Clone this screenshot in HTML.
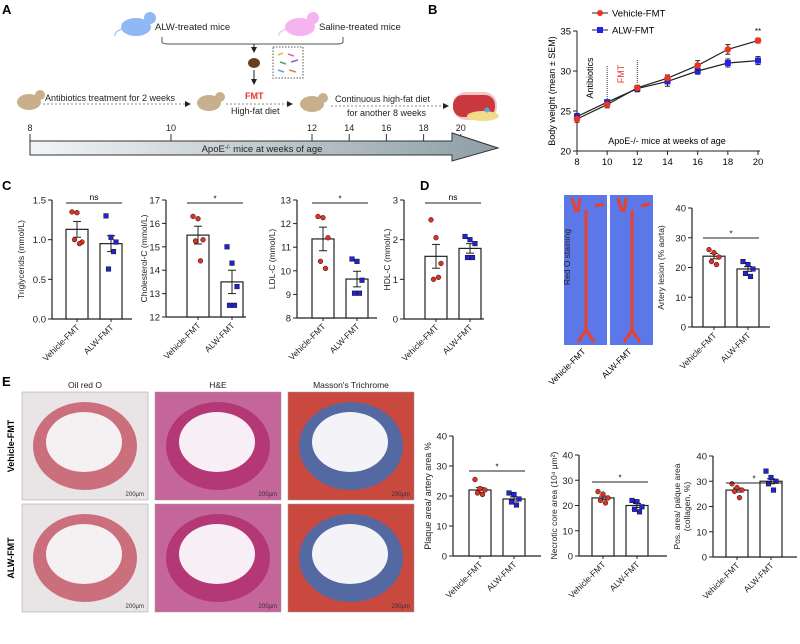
<!DOCTYPE html>
<html><head><meta charset="utf-8"><style>
body{margin:0;background:#fff}
svg{display:block;font-family:"Liberation Sans",Arial,sans-serif}
</style></head><body>
<svg id="fig" width="800" height="644" viewBox="0 0 800 644" xmlns="http://www.w3.org/2000/svg">
<defs>
<linearGradient id="tl" x1="0" x2="1"><stop offset="0" stop-color="#f2f5f7"/><stop offset="1" stop-color="#8e9ea6"/></linearGradient>
<marker id="ah" markerWidth="6" markerHeight="6" refX="5" refY="3" orient="auto"><path d="M0,0L6,3L0,6z" fill="#222"/></marker>
</defs>
<g>
<text x="2" y="14" font-size="13" font-weight="bold">A</text>
<g><ellipse cx="136" cy="27" rx="15" ry="9" fill="#8fb8f4"/><circle cx="150" cy="18" r="6" fill="#8fb8f4"/><path d="M122,29 Q114,32 115,36" stroke="#8fb8f4" fill="none"/></g>
<text x="155" y="30" font-size="9.5" fill="#222">ALW-treated mice</text>
<g><ellipse cx="300" cy="27" rx="15" ry="9" fill="#f5b3ef"/><circle cx="313" cy="18" r="6" fill="#f5b3ef"/><path d="M286,29 Q278,32 279,36" stroke="#f5b3ef" fill="none"/></g>
<text x="319" y="30" font-size="9.5" fill="#222">Saline-treated mice</text>
<path d="M162,37 V42 Q162,44 170,44 H336 Q343,44 343,42 V37" stroke="#555" fill="none"/>
<line x1="254" y1="44" x2="254" y2="52" stroke="#222" marker-end="url(#ah)"/>
<ellipse cx="254" cy="63" rx="6" ry="5" fill="#6b3f1c"/>
<rect x="273" y="47" width="30" height="31" fill="#fff" stroke="#555" stroke-dasharray="1.5,1.5"/>
<g stroke-width="1.5"><line x1="278" y1="55" x2="283" y2="53" stroke="#d6c13a"/><line x1="288" y1="54" x2="294" y2="56" stroke="#e26aa0"/><line x1="280" y1="62" x2="286" y2="64" stroke="#4aa86b"/><line x1="291" y1="62" x2="298" y2="60" stroke="#8a64c9"/><line x1="278" y1="70" x2="284" y2="72" stroke="#52a9d9"/><line x1="289" y1="70" x2="296" y2="72" stroke="#e5814b"/></g>
<line x1="254" y1="70" x2="254" y2="84" stroke="#222" marker-end="url(#ah)"/>
<g><ellipse cx="29" cy="102" rx="12" ry="8" fill="#c9b08c"/><circle cx="40" cy="95" r="5" fill="#c9b08c"/></g>
<text x="45" y="101" font-size="9" fill="#222">Antibiotics treatment for 2 weeks</text>
<line x1="43" y1="104" x2="190" y2="104" stroke="#888" stroke-dasharray="2,2" marker-end="url(#ah)"/>
<g><ellipse cx="209" cy="103" rx="12" ry="8" fill="#c9b08c"/><circle cx="220" cy="97" r="5" fill="#c9b08c"/></g>
<text x="245" y="99" font-size="9" font-weight="bold" fill="#e5352b">FMT</text>
<line x1="226" y1="104" x2="292" y2="104" stroke="#888" stroke-dasharray="2,2" marker-end="url(#ah)"/>
<text x="231" y="114" font-size="9" fill="#222">High-fat diet</text>
<g><ellipse cx="312" cy="104" rx="12" ry="8" fill="#c9b08c"/><circle cx="323" cy="98" r="5" fill="#c9b08c"/></g>
<text x="335" y="102" font-size="9" fill="#222">Continuous high-fat diet</text>
<text x="347" y="116" font-size="9" fill="#222">for another 8 weeks</text>
<line x1="331" y1="106" x2="448" y2="106" stroke="#888" stroke-dasharray="2,2" marker-end="url(#ah)"/>
<g><rect x="453" y="92" width="44" height="28" rx="13" fill="#f0c8c8"/><rect x="453" y="95" width="42" height="22" rx="10" fill="#c9383e"/><ellipse cx="483" cy="116" rx="16" ry="5" fill="#f2dc8a"/><circle cx="487" cy="110" r="2.5" fill="#55a7e0"/></g>
<g id="tlticks" font-size="9" fill="#222" text-anchor="middle"></g>
<path d="M30,141 H452 V133 L498,148 L452,161 V155 H30 Z" fill="url(#tl)" stroke="#333"/>
<text x="262" y="152" font-size="9.5" fill="#222" text-anchor="middle">ApoE<tspan font-size="6" dy="-3">-/-</tspan><tspan dy="3"> mice at weeks of age</tspan></text>
</g>
<g id="pb">
<text x="428" y="14" font-size="13" font-weight="bold">B</text>
</g>
<text x="2" y="190" font-size="13" font-weight="bold">C</text>
<text x="420" y="190" font-size="13" font-weight="bold">D</text>
<g>
<rect x="564" y="195" width="43" height="150" fill="#5b77e8"/>
<rect x="610" y="195" width="43" height="150" fill="#5b77e8"/>
<g fill="none" stroke="#e8422c" stroke-width="3"><path d="M572,198 L576,212 M580,198 L578,212 M595,206 L604,204 M586,210 V330 M586,330 L578,342 M586,330 L594,342"/><path d="M618,198 L622,212 M626,198 L624,212 M641,206 L650,204 M632,210 V330 M632,330 L624,342 M632,330 L640,342"/></g>
<text x="586" y="273" font-size="8.5" fill="#222" text-anchor="middle" transform="rotate(-90 570 273)">Red O staining</text>
<text x="586" y="352" font-size="8.5" text-anchor="end" transform="rotate(-45 586 352)">Vehicle-FMT</text>
<text x="632" y="352" font-size="8.5" text-anchor="end" transform="rotate(-45 632 352)">ALW-FMT</text>
</g>
<text x="2" y="386" font-size="13" font-weight="bold">E</text>
<g id="histo"></g>
<g id="charts"></g>
</svg>
<script>
const NS="http://www.w3.org/2000/svg";
function mk(tag,attrs,parent,txt){const e=document.createElementNS(NS,tag);for(const k in attrs)e.setAttribute(k,attrs[k]);if(txt!==undefined)e.textContent=txt;parent.appendChild(e);return e;}

const tlWeeks=[8,10,12,14,16,18,20];
function tlPos(w){ if(w<=12) return 30+(w-8)*70.5; return 312+(w-12)*18.6; }
const tlg=document.getElementById('tlticks');
tlWeeks.forEach(w=>{const x=tlPos(w);
 const t=mk('text',{x:x,y:131},tlg,String(w));
 
 
 mk('line',{x1:x,y1:134,x2:x,y2:141,stroke:'#333'},tlg);});

const bWeeks=[8,10,12,14,16,18,20];
const bVehicle=[24.0,25.8,27.9,29.1,30.7,32.7,33.8];
const bVehicleSem=[0.4,0.4,0.3,0.4,0.6,0.6,0.3];
const bAlw=[24.3,26.1,27.8,28.7,30.0,31.0,31.3];
const bAlwSem=[0.4,0.3,0.4,0.6,0.4,0.5,0.5];
const bYTicks=[20,25,30,35];
(function(){
 const g=document.getElementById('pb');
 const X=w=>577+(w-8)*(758-577)/12, Y=v=>151-(v-20)*(151-31)/15;
 mk('line',{x1:577,y1:31,x2:577,y2:151,stroke:'#222'},g);
 mk('line',{x1:577,y1:151,x2:760,y2:151,stroke:'#222'},g);
 bYTicks.forEach(v=>{mk('line',{x1:573,y1:Y(v),x2:577,y2:Y(v),stroke:'#222'},g);
  const t=mk('text',{x:571,y:Y(v)+3.5,'font-size':9.5,'text-anchor':'end'},g,String(v));
  });
 bWeeks.forEach(w=>{mk('line',{x1:X(w),y1:151,x2:X(w),y2:155,stroke:'#222'},g);
  const t=mk('text',{x:X(w),y:165,'font-size':9.5,'text-anchor':'middle'},g,String(w));
  });
 const yt=mk('text',{x:0,y:0,'font-size':9,'text-anchor':'middle',transform:'translate(555,91) rotate(-90)'},g,'Body weight (mean ± SEM)');
 
 const xt=mk('text',{x:667,y:144,'font-size':9,'text-anchor':'middle'},g,'ApoE-/- mice at weeks of age');
 
 mk('line',{x1:X(10),y1:66,x2:X(10),y2:100,stroke:'#333','stroke-dasharray':'1,1'},g);
 mk('line',{x1:X(12),y1:60,x2:X(12),y2:83,stroke:'#333','stroke-dasharray':'1,1'},g);
 let t=mk('text',{x:0,y:0,'font-size':9,'text-anchor':'middle',transform:'translate(593,78) rotate(-90)'},g,'Antibiotics');
 
 t=mk('text',{x:0,y:0,'font-size':9,fill:'#e5352b','text-anchor':'middle',transform:'translate(624,74) rotate(-90)'},g,'FMT');
 
 t=mk('text',{x:X(20),y:Y(34.6),'font-size':8,'text-anchor':'middle'},g,'**');
 
 [[bAlw,bAlwSem,'#2222ee','sq','alw'],[bVehicle,bVehicleSem,'#ee3322','ci','vehicle']].forEach(([d,s,c,shape,nm])=>{
  const line=mk('polyline',{points:d.map((v,i)=>X(bWeeks[i])+','+Y(v)).join(' '),fill:'none',stroke:'#222','stroke-width':1.2},g);
  
  d.forEach((v,i)=>{const x=X(bWeeks[i]);
   mk('line',{x1:x,y1:Y(v+s[i]),x2:x,y2:Y(v-s[i]),stroke:'#222'},g);
   mk('line',{x1:x-2.5,y1:Y(v+s[i]),x2:x+2.5,y2:Y(v+s[i]),stroke:'#222'},g);
   mk('line',{x1:x-2.5,y1:Y(v-s[i]),x2:x+2.5,y2:Y(v-s[i]),stroke:'#222'},g);
   let p=shape==='sq'?mk('rect',{x:x-3,y:Y(v)-3,width:6,height:6,fill:c},g):mk('circle',{cx:x,cy:Y(v),r:3.3,fill:c},g);
   });
 });
 mk('line',{x1:592,y1:13,x2:608,y2:13,stroke:'#222'},g);mk('circle',{cx:600,cy:13,r:3,fill:'#ee3322'},g);
 t=mk('text',{x:612,y:16.5,'font-size':9.5},g,'Vehicle-FMT');
 mk('line',{x1:592,y1:30,x2:608,y2:30,stroke:'#222'},g);mk('rect',{x:597,y:27,width:6,height:6,fill:'#2222ee'},g);
 t=mk('text',{x:612,y:33.5,'font-size':9.5},g,'ALW-FMT');
})();

const groups=['Vehicle-FMT','ALW-FMT'];
const triMeans=[1.13,0.95], triSem=[0.1,0.1], triVeh=[1.35,1.34,0.97,1.0,0.95], triAlw=[1.3,1.03,0.97,0.63,0.85], triTicks=['0.0','0.5','1.0','1.5'];
const cholMeans=[15.5,13.5], cholSem=[0.38,0.5], cholVeh=[16.3,16.2,15.3,15.25,14.4], cholAlw=[15.0,14.3,13.3,12.5,12.5], cholTicks=['12','13','14','15','16','17'];
const ldlMeans=[11.35,9.65], ldlSem=[0.5,0.33], ldlVeh=[12.3,12.25,11.4,10.4,10.1], ldlAlw=[10.5,10.4,9.6,9.05,9.05], ldlTicks=['8','9','10','11','12','13'];
const hdlMeans=[1.58,1.78], hdlSem=[0.3,0.12], hdlVeh=[2.5,2.05,1.4,1.0,1.05], hdlAlw=[2.08,2.0,1.9,1.55,1.55], hdlTicks=['0','1','2','3'];
const lesMeans=[23.8,19.5], lesSem=[0.9,0.8], lesVeh=[26,25,23.5,22,21], lesAlw=[22,21,19.5,18,17], lesTicks=['0','10','20','30','40'];
const plqMeans=[22,19], plqSem=[0.8,0.7], plqVeh=[25.5,22.5,22,21,20.5], plqAlw=[21,20.5,19,18,17], plqTicks=['0','10','20','30','40'];
const necMeans=[23,20], necSem=[0.7,0.8], necVeh=[25.5,24.5,23,22,21], necAlw=[22,21.5,19.5,18.5,17.5], necTicks=['0','10','20','30','40'];
const colMeans=[26.5,30], colSem=[0.8,1.0], colVeh=[29,27.5,26.5,26,23.5], colAlw=[34,31.5,30,29,26.5], colTicks=['0','10','20','30','40'];

function bar(o){
 const g=mk('g',{},document.getElementById('charts'));
 
 const lo=parseFloat(o.ticks[0]),hi=parseFloat(o.ticks[o.ticks.length-1]);
 const Y=v=>o.y0-(v-lo)*(o.y0-o.y1)/(hi-lo);
 mk('line',{x1:o.ax,y1:o.y1,x2:o.ax,y2:o.y0,stroke:'#222','stroke-width':1.2},g);
 mk('line',{x1:o.ax,y1:o.y0,x2:o.ax+o.w,y2:o.y0,stroke:'#222','stroke-width':1.2},g);
 o.ticks.forEach(tv=>{const y=Y(parseFloat(tv));mk('line',{x1:o.ax-4,y1:y,x2:o.ax,y2:y,stroke:'#222'},g);
  const t=mk('text',{x:o.ax-6,y:y+3.5,'font-size':9.5,'text-anchor':'end',fill:'#222'},g,tv);
  });
 const t=mk('text',{x:0,y:0,'font-size':o.tfs||8.5,'text-anchor':'middle',fill:'#222',transform:`translate(${o.tx},${(o.y0+o.y1)/2}) rotate(-90)`},g);
 o.title.forEach((ln,i)=>{mk('tspan',{x:0,dy:i?10:0},t,ln);});
 
 const cx=[o.ax+o.off+11,o.ax+o.off+45];
 [0,1].forEach(i=>{const m=o.means[i],s=o.sem[i],x=cx[i];
  const r=mk('rect',{x:x-11,y:Y(m),width:22,height:o.y0-Y(m),fill:'#fff',stroke:'#222','stroke-width':1.2},g);
  
  mk('line',{x1:x,y1:Y(m+s),x2:x,y2:Y(m-s),stroke:'#222'},g);
  mk('line',{x1:x-4,y1:Y(m+s),x2:x+4,y2:Y(m+s),stroke:'#222'},g);
  mk('line',{x1:x-4,y1:Y(m-s),x2:x+4,y2:Y(m-s),stroke:'#222'},g);
  const pts=i?o.alw:o.veh,dx=[-5,0,5,-2.5,2.5];
  pts.forEach((v,j)=>{let p;
   if(i) p=mk('rect',{x:x+dx[j]-2.3,y:Y(v)-2.3,width:4.6,height:4.6,fill:'#2222dd',stroke:'#111','stroke-width':0.5},g);
   else p=mk('circle',{cx:x+dx[j],cy:Y(v),r:2.4,fill:'#e5301f',stroke:'#111','stroke-width':0.5},g);
   });
  mk('line',{x1:x,y1:o.y0,x2:x,y2:o.y0+3,stroke:'#222'},g);
  const lb=mk('text',{x:x+3,y:o.y0+9,'font-size':8.5,'text-anchor':'end',fill:'#222',transform:`rotate(-45 ${x+3} ${o.y0+9})`},g,groups[i]);
  
 });
 const sy=o.y1+(o.sigdy||3);
 mk('line',{x1:cx[0]-11,y1:sy,x2:cx[1]+11,y2:sy,stroke:'#222'},g);
 const st=mk('text',{x:(cx[0]+cx[1])/2,y:sy-(o.sig==='ns'?3:1.5),'font-size':o.sig==='ns'?8.5:8,'text-anchor':'middle'},g,o.sig);
 
}
bar({name:'triglycerides-chart',ax:52,y0:319,y1:200,w:80,off:14,ticks:triTicks,means:triMeans,sem:triSem,veh:triVeh,alw:triAlw,title:['Triglycerids (mmol/L)'],tx:24,sig:'ns'});
bar({name:'cholesterol-chart',ax:166,y0:317,y1:200,w:80,off:21,ticks:cholTicks,means:cholMeans,sem:cholSem,veh:cholVeh,alw:cholAlw,title:['Cholesterol-C (mmol/L)'],tx:147,sig:'*'});
bar({name:'ldl-chart',ax:297,y0:318,y1:200,w:80,off:15,ticks:ldlTicks,means:ldlMeans,sem:ldlSem,veh:ldlVeh,alw:ldlAlw,title:['LDL-C (mmol/L)'],tx:275,sig:'*'});
bar({name:'hdl-chart',ax:404,y0:319,y1:200,w:80,off:21,ticks:hdlTicks,means:hdlMeans,sem:hdlSem,veh:hdlVeh,alw:hdlAlw,title:['HDL-C (mmol/L)'],tx:390,sig:'ns'});
bar({name:'artery-lesion-chart',ax:692,y0:327,y1:208,w:78,off:11,ticks:lesTicks,means:lesMeans,sem:lesSem,veh:lesVeh,alw:lesAlw,title:['Artery lesion (% aorta)'],tx:664,sig:'*',sigdy:30});
bar({name:'plaque-area-chart',ax:453,y0:556,y1:436,w:88,off:16,ticks:plqTicks,means:plqMeans,sem:plqSem,veh:plqVeh,alw:plqAlw,title:['Plaque area/ artery area %'],tx:431,sig:'*',sigdy:35,tfs:9});
bar({name:'necrotic-core-chart',ax:579,y0:556,y1:455,w:88,off:13,ticks:necTicks,means:necMeans,sem:necSem,veh:necVeh,alw:necAlw,title:['Necrotic core area (10⁴ μm²)'],tx:557,sig:'*',sigdy:27});
bar({name:'collagen-chart',ax:713,y0:557,y1:456,w:84,off:13,ticks:colTicks,means:colMeans,sem:colSem,veh:colVeh,alw:colAlw,title:['Pos. area/ palque area','(collagen, %)'],tx:680,sig:'*',sigdy:27});

(function(){
 const h=document.getElementById('histo');
 const cols=[[22,'Oil red O','#e9e4e6','#f5f0f2','#c75a6a'],[155,'H&E','#c4669a','#f8eef5','#b0306e'],[288,"Masson's Trichrome",'#c9493f','#f3f3f8','#3f6fb4']];
 const rows=[[392,'Vehicle-FMT'],[504,'ALW-FMT']];
 cols.forEach(([x,name,bg,lum,ring])=>{
  const t=mk('text',{x:x+63,y:388,'font-size':8.5,'text-anchor':'middle',fill:'#222'},h,name);
  
  rows.forEach(([y])=>{
   const r=mk('rect',{x:x,y:y,width:126,height:108,fill:bg,stroke:'#999','stroke-width':0.5},h);
   
   mk('ellipse',{cx:x+63,cy:y+54,rx:52,ry:44,fill:ring,opacity:0.85},h);
   mk('ellipse',{cx:x+62,cy:y+50,rx:38,ry:30,fill:lum},h);
   mk('text',{x:x+122,y:y+104,'font-size':6,'text-anchor':'end',fill:'#333'},h,'200μm');
  });
 });
 rows.forEach(([y,name])=>{const t=mk('text',{x:0,y:0,'font-size':9,'font-weight':'bold','text-anchor':'middle',transform:`translate(14,${y+54}) rotate(-90)`},h,name);
  });
})();
</script>
</body></html>
